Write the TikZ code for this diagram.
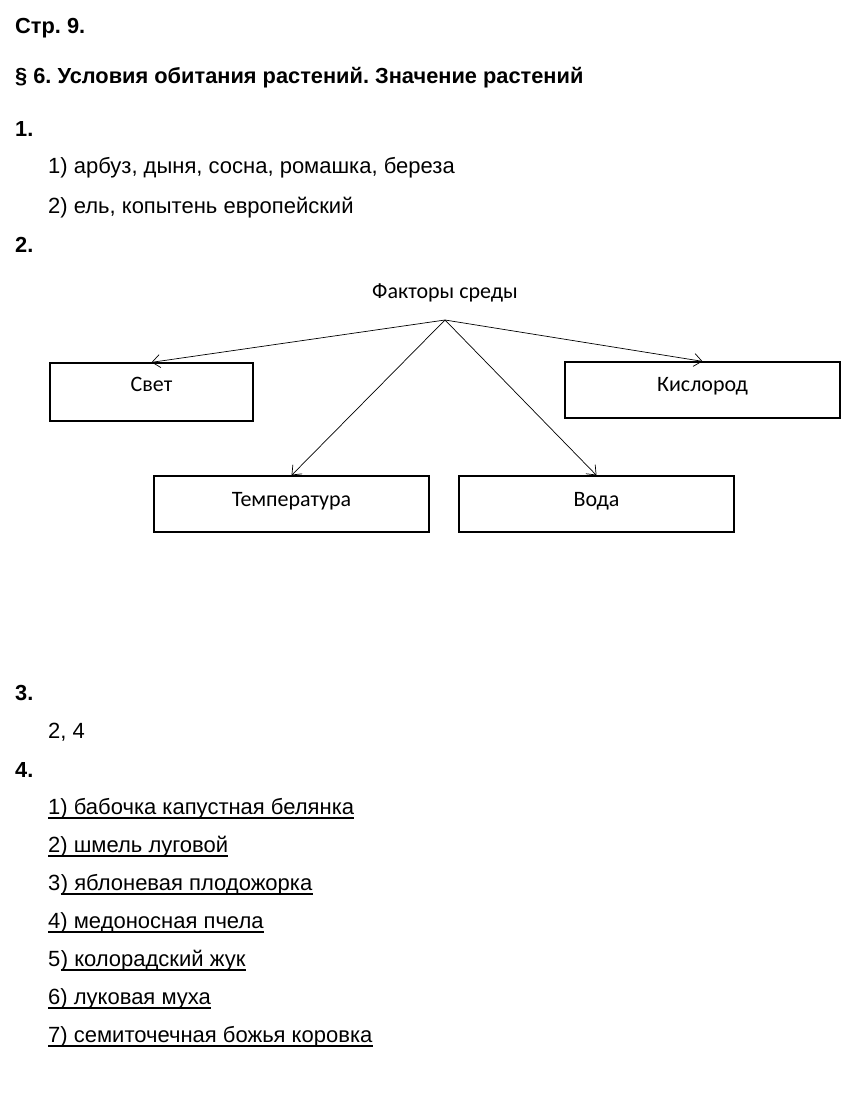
\documentclass[tikz,border=0pt]{standalone}
\usepackage{fontspec}
\setmainfont{Liberation Sans}
\newfontfamily\calibri{Carlito}
\usetikzlibrary{arrows.meta,positioning}
\frenchspacing

\tikzset{
  txt/.style={anchor=base west, inner sep=0pt, font=\fontsize{22}{26}\selectfont},
  head/.style={txt, font=\fontsize{21.8}{26}\selectfont\bfseries},
  box/.style={draw, line width=1.3pt, minimum width=275pt, minimum height=56pt, inner sep=0pt},
  lbl/.style={inner sep=0pt, font=\calibri\fontsize{22}{26}\selectfont},
  link/.style={-{Straight Barb[length=8pt,width=13pt]}, line width=0.7pt},
  uline/.style={line width=1.4pt}
}

\begin{document}
\begin{tikzpicture}[x=1pt,y=-1pt]
\useasboundingbox[fill=white] (0,0) rectangle (855,1102);

\node[head] (page) at (15,34) {Стр. 9.};
\node[head] (title) at (15,84) {§ 6. Условия обитания растений. Значение растений};

% task 1
\node[head] (t1) at (15,137) {1.};
\node[txt] (a1) at (48,174) {1) арбуз, дыня, сосна, ромашка, береза};
\node[txt] (a2) at (48,213) {2) ель, копытень европейский};

% task 2
\node[head] (t2) at (15,252) {2.};
\node[lbl] (factors) at (445,293) {Факторы среды};
\coordinate (src) at (445,320);

\node[box, minimum width=203pt, minimum height=58pt] (svet) at (151.5,392) {};
\node[lbl] at ([yshift=8pt]svet.center) {Свет};
\node[box] (kislorod) at (702.5,390) {};
\node[lbl] at ([yshift=4pt]kislorod.center) {Кислород};
\node[box] (temp) at (291.5,504) {};
\node[lbl] at ([yshift=3pt]temp.center) {Температура};
\node[box] (voda) at (596.5,504) {};
\node[lbl] at ([yshift=3pt]voda.center) {Вода};

\draw[link] (src) -- (svet.north);
\draw[link] (src) -- (kislorod.north);
\draw[link] (src) -- (temp.north);
\draw[link] (src) -- (voda.north);

% task 3
\node[head] (t3) at (15,700) {3.};
\node[txt] (a3) at (48,738) {2, 4};

% task 4
\node[head] (t4) at (15,777) {4.};
\node[txt] (b1) at (48,814) {1) бабочка капустная белянка};
\node[txt] (b2) at (48,852) {2) шмель луговой};
\node[txt] (n3) at (48,890) {3};
\node[txt, anchor=base west] (b3) at (n3.base east) {) яблоневая плодожорка};
\node[txt] (b4) at (48,928) {4) медоносная пчела};
\node[txt] (n5) at (48,966) {5};
\node[txt, anchor=base west] (b5) at (n5.base east) {) колорадский жук};
\node[txt] (b6) at (48,1004) {6) луковая муха};
\node[txt] (b7) at (48,1042) {7) семиточечная божья коровка};

\draw[uline] ([yshift=-4pt]b1.base west) -- ([yshift=-4pt]b1.base east);
\draw[uline] ([yshift=-4pt]b2.base west) -- ([yshift=-4pt]b2.base east);
\draw[uline] ([yshift=-4pt]b3.base west) -- ([yshift=-4pt]b3.base east);
\draw[uline] ([yshift=-4pt]b4.base west) -- ([yshift=-4pt]b4.base east);
\draw[uline] ([yshift=-4pt]b5.base west) -- ([yshift=-4pt]b5.base east);
\draw[uline] ([yshift=-4pt]b6.base west) -- ([yshift=-4pt]b6.base east);
\draw[uline] ([yshift=-4pt]b7.base west) -- ([yshift=-4pt]b7.base east);
\end{tikzpicture}
\end{document}
